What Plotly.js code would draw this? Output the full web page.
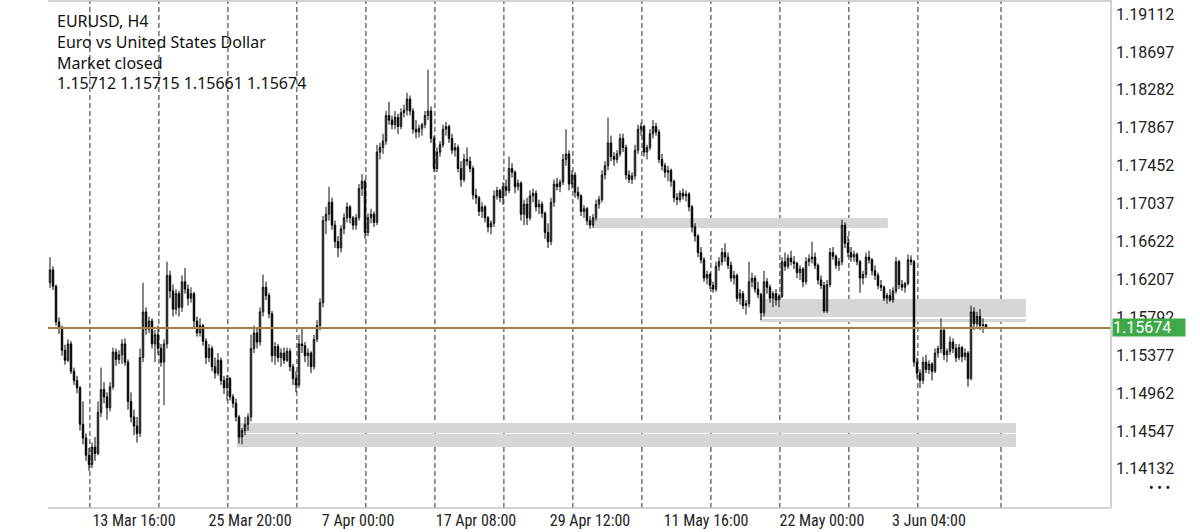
<!DOCTYPE html>
<html><head><meta charset="utf-8">
<script src="https://cdn.plot.ly/plotly-3.0.1.min.js"></script>
<style>html,body{margin:0;padding:0;background:#fff}#chart{width:1200px;height:532px}</style>
</head><body><div id="chart"></div>
<script>
// ---- header text ----
const headerLines = ["EURUSD, H4", "Euro vs United States Dollar", "Market closed", "1.15712 1.15715 1.15661 1.15674"];

// ---- H4 candles ----
const openPrices = [
1.1617,1.1631,1.1613,1.1574,1.1567,1.1543,1.1532,1.1550,1.1520,1.1510,
1.1502,1.1462,1.1447,1.1428,1.1418,1.1437,1.1430,1.1475,1.1500,1.1492,
1.1480,1.1503,1.1541,1.1533,1.1538,1.1550,1.1530,1.1487,1.1470,1.1460,
1.1452,1.1535,1.1585,1.1566,1.1575,1.1550,1.1560,1.1545,1.1530,1.1550,
1.1625,1.1608,1.1588,1.1605,1.1590,1.1618,1.1610,1.1600,1.1605,1.1575,
1.1562,1.1570,1.1553,1.1535,1.1545,1.1525,1.1518,1.1532,1.1510,1.1502,
1.1512,1.1492,1.1485,1.1470,1.1448,1.1455,1.1462,1.1470,1.1545,1.1562,
1.1552,1.1585,1.1612,1.1603,1.1583,1.1537,1.1547,1.1535,1.1540,1.1532,
1.1542,1.1525,1.1512,1.1505,1.1550,1.1548,1.1537,1.1540,1.1525,1.1555,
1.1570,1.1595,1.1685,1.1692,1.1705,1.1680,1.1662,1.1655,1.1676,1.1688,
1.1700,1.1688,1.1680,1.1688,1.1720,1.1728,1.1672,1.1688,1.1692,1.1683,
1.1760,1.1765,1.1772,1.1800,1.1795,1.1790,1.1798,1.1788,1.1803,1.1806,
1.1818,1.1805,1.1785,1.1782,1.1786,1.1790,1.1800,1.1805,1.1775,1.1742,
1.1760,1.1768,1.1785,1.1788,1.1775,1.1762,1.1765,1.1742,1.1730,1.1752,
1.1750,1.1742,1.1713,1.1710,1.1695,1.1700,1.1688,1.1678,1.1682,1.1712,
1.1718,1.1710,1.1722,1.1718,1.1742,1.1738,1.1722,1.1726,1.1692,1.1703,
1.1688,1.1712,1.1715,1.1700,1.1703,1.1693,1.1672,1.1662,1.1705,1.1725,
1.1722,1.1727,1.1752,1.1758,1.1725,1.1735,1.1716,1.1712,1.1695,1.1698,
1.1685,1.1680,1.1688,1.1703,1.1708,1.1735,1.1745,1.1770,1.1755,1.1752,
1.1758,1.1775,1.1765,1.1735,1.1730,1.1734,1.1762,1.1785,1.1788,1.1760,
1.1765,1.1780,1.1788,1.1782,1.1752,1.1745,1.1738,1.1740,1.1728,1.1710,
1.1708,1.1715,1.1712,1.1714,1.1700,1.1678,1.1668,1.1650,1.1642,1.1622,
1.1626,1.1614,1.1610,1.1635,1.1640,1.1650,1.1645,1.1636,1.1622,1.1625,
1.1600,1.1605,1.1592,1.1594,1.1618,1.1622,1.1610,1.1604,1.1584,1.1618,
1.1612,1.1600,1.1605,1.1598,1.1602,1.1640,1.1635,1.1644,1.1640,1.1638,
1.1628,1.1632,1.1618,1.1640,1.1643,1.1645,1.1636,1.1620,1.1614,1.1586,
1.1615,1.1650,1.1646,1.1636,1.1640,1.1680,1.1660,1.1650,1.1645,1.1648,
1.1640,1.1622,1.1626,1.1645,1.1642,1.1630,1.1625,1.1614,1.1612,1.1600,
1.1603,1.1598,1.1608,1.1640,1.1615,1.1612,1.1616,1.1642,1.1640,1.1530,
1.1518,1.1510,1.1530,1.1522,1.1528,1.1520,1.1540,1.1545,1.1565,1.1538,
1.1542,1.1552,1.1545,1.1535,1.1546,1.1536,1.1540,1.1512,1.1585,1.1572,
1.1580,1.1570,1.15712];
const highPrices = [
1.1645,1.1635,1.1615,1.1579,1.1570,1.1549,1.1555,1.1553,1.1524,1.1515,
1.1504,1.1487,1.1452,1.1436,1.1442,1.1448,1.1487,1.1524,1.1508,1.1497,
1.1508,1.1546,1.1545,1.1543,1.1555,1.1556,1.1533,1.1497,1.1478,1.1470,
1.1545,1.1617,1.1590,1.1580,1.1578,1.1565,1.1570,1.1550,1.1555,1.1640,
1.1630,1.1615,1.1610,1.1608,1.1625,1.1633,1.1615,1.1612,1.1607,1.1580,
1.1578,1.1572,1.1556,1.1550,1.1548,1.1535,1.1540,1.1535,1.1515,1.1516,
1.1514,1.1495,1.1490,1.1472,1.1458,1.1470,1.1474,1.1560,1.1570,1.1567,
1.1590,1.1626,1.1618,1.1606,1.1586,1.1552,1.1550,1.1545,1.1546,1.1546,
1.1545,1.1528,1.1520,1.1560,1.1568,1.1552,1.1545,1.1542,1.1560,1.1576,
1.1600,1.1690,1.1700,1.1722,1.1710,1.1685,1.1668,1.1680,1.1693,1.1705,
1.1702,1.1690,1.1692,1.1725,1.1736,1.1730,1.1693,1.1698,1.1695,1.1768,
1.1770,1.1780,1.1805,1.1815,1.1800,1.1805,1.1802,1.1808,1.1812,1.1825,
1.1822,1.1808,1.1795,1.1790,1.1792,1.1805,1.1850,1.1810,1.1778,1.1765,
1.1772,1.1790,1.1793,1.1790,1.1780,1.1770,1.1768,1.1750,1.1758,1.1765,
1.1755,1.1745,1.1720,1.1712,1.1705,1.1702,1.1690,1.1685,1.1718,1.1722,
1.1720,1.1727,1.1730,1.1755,1.1748,1.1740,1.1730,1.1728,1.1708,1.1710,
1.1718,1.1720,1.1718,1.1708,1.1706,1.1695,1.1682,1.1710,1.1730,1.1732,
1.1730,1.1758,1.1785,1.1762,1.1740,1.1738,1.1722,1.1714,1.1702,1.1700,
1.1690,1.1692,1.1708,1.1712,1.1740,1.1750,1.1798,1.1778,1.1760,1.1762,
1.1780,1.1780,1.1768,1.1740,1.1738,1.1768,1.1790,1.1792,1.1790,1.1768,
1.1785,1.1795,1.1792,1.1785,1.1758,1.1748,1.1745,1.1742,1.1730,1.1715,
1.1718,1.1720,1.1718,1.1716,1.1702,1.1682,1.1670,1.1656,1.1645,1.1630,
1.1628,1.1618,1.1640,1.1645,1.1655,1.1660,1.1650,1.1640,1.1630,1.1627,
1.1610,1.1608,1.1598,1.1640,1.1628,1.1625,1.1618,1.1606,1.1630,1.1622,
1.1615,1.1608,1.1610,1.1605,1.1645,1.1650,1.1648,1.1652,1.1646,1.1640,
1.1636,1.1634,1.1645,1.1648,1.1662,1.1650,1.1638,1.1625,1.1618,1.1620,
1.1655,1.1656,1.1648,1.1644,1.1686,1.1683,1.1668,1.1656,1.1652,1.1650,
1.1642,1.1630,1.1650,1.1652,1.1644,1.1636,1.1628,1.1620,1.1614,1.1606,
1.1610,1.1612,1.1645,1.1642,1.1620,1.1618,1.1648,1.1647,1.1642,1.1535,
1.1522,1.1536,1.1538,1.1532,1.1530,1.1545,1.1548,1.1578,1.1568,1.1545,
1.1558,1.1556,1.1550,1.1550,1.1548,1.1545,1.1542,1.1592,1.1590,1.1585,
1.1588,1.1578,1.15715];
const lowPrices = [
1.1611,1.1609,1.1570,1.1561,1.1537,1.1527,1.1530,1.1517,1.1505,1.1496,
1.1455,1.1440,1.1422,1.1411,1.1414,1.1422,1.1428,1.1470,1.1485,1.1467,
1.1476,1.1500,1.1526,1.1528,1.1528,1.1526,1.1478,1.1464,1.1450,1.1442,
1.1448,1.1530,1.1560,1.1562,1.1545,1.1530,1.1538,1.1525,1.1483,1.1545,
1.1600,1.1580,1.1582,1.1580,1.1585,1.1605,1.1592,1.1595,1.1568,1.1558,
1.1558,1.1548,1.1528,1.1530,1.1520,1.1512,1.1515,1.1505,1.1495,1.1488,
1.1488,1.1480,1.1465,1.1441,1.1440,1.1450,1.1455,1.1465,1.1540,1.1545,
1.1548,1.1580,1.1598,1.1578,1.1530,1.1527,1.1530,1.1525,1.1528,1.1530,
1.1520,1.1505,1.1497,1.1502,1.1540,1.1530,1.1525,1.1518,1.1522,1.1552,
1.1565,1.1590,1.1670,1.1685,1.1675,1.1655,1.1645,1.1650,1.1670,1.1683,
1.1682,1.1675,1.1675,1.1685,1.1712,1.1665,1.1668,1.1682,1.1678,1.1680,
1.1752,1.1758,1.1768,1.1790,1.1785,1.1785,1.1780,1.1785,1.1798,1.1800,
1.1800,1.1780,1.1775,1.1776,1.1778,1.1786,1.1795,1.1770,1.1738,1.1738,
1.1755,1.1765,1.1778,1.1770,1.1758,1.1755,1.1738,1.1722,1.1727,1.1745,
1.1738,1.1708,1.1703,1.1690,1.1688,1.1683,1.1672,1.1670,1.1678,1.1708,
1.1705,1.1702,1.1712,1.1715,1.1732,1.1715,1.1718,1.1685,1.1680,1.1680,
1.1685,1.1705,1.1695,1.1692,1.1688,1.1665,1.1655,1.1658,1.1700,1.1718,
1.1716,1.1724,1.1745,1.1718,1.1720,1.1710,1.1708,1.1690,1.1688,1.1680,
1.1676,1.1677,1.1685,1.1698,1.1705,1.1730,1.1740,1.1750,1.1745,1.1748,
1.1755,1.1760,1.1730,1.1726,1.1725,1.1730,1.1758,1.1778,1.1755,1.1752,
1.1762,1.1775,1.1778,1.1748,1.1740,1.1732,1.1728,1.1722,1.1705,1.1702,
1.1705,1.1708,1.1706,1.1695,1.1672,1.1662,1.1645,1.1638,1.1618,1.1615,
1.1610,1.1606,1.1607,1.1630,1.1636,1.1640,1.1632,1.1618,1.1615,1.1596,
1.1593,1.1588,1.1582,1.1590,1.1612,1.1606,1.1600,1.1576,1.1580,1.1605,
1.1595,1.1590,1.1592,1.1590,1.1600,1.1630,1.1632,1.1636,1.1632,1.1622,
1.1620,1.1612,1.1615,1.1635,1.1638,1.1632,1.1615,1.1610,1.1584,1.1584,
1.1612,1.1642,1.1632,1.1630,1.1636,1.1655,1.1645,1.1640,1.1640,1.1636,
1.1606,1.1615,1.1622,1.1638,1.1625,1.1620,1.1610,1.1608,1.1597,1.1594,
1.1596,1.1595,1.1605,1.1610,1.1608,1.1606,1.1614,1.1636,1.1525,1.1512,
1.1502,1.1506,1.1518,1.1517,1.1510,1.1518,1.1535,1.1540,1.1532,1.1530,
1.1538,1.1540,1.1530,1.1532,1.1530,1.1532,1.1503,1.1510,1.1565,1.1568,
1.1565,1.1562,1.15661];
const closePrices = [
1.1631,1.1613,1.1574,1.1567,1.1543,1.1532,1.1550,1.1520,1.1510,1.1502,
1.1462,1.1447,1.1428,1.1418,1.1437,1.1430,1.1475,1.1500,1.1492,1.1480,
1.1503,1.1541,1.1533,1.1538,1.1550,1.1530,1.1487,1.1470,1.1460,1.1452,
1.1535,1.1585,1.1566,1.1575,1.1550,1.1560,1.1545,1.1530,1.1550,1.1625,
1.1608,1.1588,1.1605,1.1590,1.1618,1.1610,1.1600,1.1605,1.1575,1.1562,
1.1570,1.1553,1.1535,1.1545,1.1525,1.1518,1.1532,1.1510,1.1502,1.1512,
1.1492,1.1485,1.1470,1.1448,1.1455,1.1462,1.1470,1.1545,1.1562,1.1552,
1.1585,1.1612,1.1603,1.1583,1.1537,1.1547,1.1535,1.1540,1.1532,1.1542,
1.1525,1.1512,1.1505,1.1550,1.1548,1.1537,1.1540,1.1525,1.1555,1.1570,
1.1595,1.1685,1.1692,1.1705,1.1680,1.1662,1.1655,1.1676,1.1688,1.1700,
1.1688,1.1680,1.1688,1.1720,1.1728,1.1672,1.1688,1.1692,1.1683,1.1760,
1.1765,1.1772,1.1800,1.1795,1.1790,1.1798,1.1788,1.1803,1.1806,1.1818,
1.1805,1.1785,1.1782,1.1786,1.1790,1.1800,1.1805,1.1775,1.1742,1.1760,
1.1768,1.1785,1.1788,1.1775,1.1762,1.1765,1.1742,1.1730,1.1752,1.1750,
1.1742,1.1713,1.1710,1.1695,1.1700,1.1688,1.1678,1.1682,1.1712,1.1718,
1.1710,1.1722,1.1718,1.1742,1.1738,1.1722,1.1726,1.1692,1.1703,1.1688,
1.1712,1.1715,1.1700,1.1703,1.1693,1.1672,1.1662,1.1705,1.1725,1.1722,
1.1727,1.1752,1.1758,1.1725,1.1735,1.1716,1.1712,1.1695,1.1698,1.1685,
1.1680,1.1688,1.1703,1.1708,1.1735,1.1745,1.1770,1.1755,1.1752,1.1758,
1.1775,1.1765,1.1735,1.1730,1.1734,1.1762,1.1785,1.1788,1.1760,1.1765,
1.1780,1.1788,1.1782,1.1752,1.1745,1.1738,1.1740,1.1728,1.1710,1.1708,
1.1715,1.1712,1.1714,1.1700,1.1678,1.1668,1.1650,1.1642,1.1622,1.1626,
1.1614,1.1610,1.1635,1.1640,1.1650,1.1645,1.1636,1.1622,1.1625,1.1600,
1.1605,1.1592,1.1594,1.1618,1.1622,1.1610,1.1604,1.1584,1.1618,1.1612,
1.1600,1.1605,1.1598,1.1602,1.1640,1.1635,1.1644,1.1640,1.1638,1.1628,
1.1632,1.1618,1.1640,1.1643,1.1645,1.1636,1.1620,1.1614,1.1586,1.1615,
1.1650,1.1646,1.1636,1.1640,1.1680,1.1660,1.1650,1.1645,1.1648,1.1640,
1.1622,1.1626,1.1645,1.1642,1.1630,1.1625,1.1614,1.1612,1.1600,1.1603,
1.1598,1.1608,1.1640,1.1615,1.1612,1.1616,1.1642,1.1640,1.1530,1.1518,
1.1510,1.1530,1.1522,1.1528,1.1520,1.1540,1.1545,1.1565,1.1538,1.1542,
1.1552,1.1545,1.1535,1.1546,1.1536,1.1540,1.1512,1.1585,1.1572,1.1580,
1.1570,1.1571,1.15674];

const lastPrice = 1.15674;

// ---- axis labels ----
const priceTicks = [1.19112,1.18697,1.18282,1.17867,1.17452,1.17037,1.16622,1.16207,1.15792,1.15377,1.14962,1.14547,1.14132];
const dateLabels = ["13 Mar 16:00","25 Mar 20:00","7 Apr 00:00","17 Apr 08:00","29 Apr 12:00","11 May 16:00","22 May 00:00","3 Jun 04:00"];
const dateLabelBars = [28, 66.7, 102.7, 142, 180, 218.7, 257.3, 293];
const separatorBars = [13.3, 36.3, 59.3, 82.3, 105.3, 128.3, 151.3, 174.3, 197.3, 220.3, 243.3, 266.3, 289.3, 317];

// ---- supply / demand zones (bar index from-to, price low-high) ----
const zoneStart = [62.3, 62.3, 236.7, 236.7, 181];
const zoneEnd   = [322, 322, 325.3, 325.3, 279.3];
const zoneLow   = [1.14524, 1.14371, 1.15794, 1.15739, 1.16769];
const zoneHigh  = [1.14633, 1.14513, 1.15991, 1.15772, 1.16878];

const bars = closePrices.map((_, i) => i);

const shapes = [];
for (let k = 0; k < zoneStart.length; k++) {
  shapes.push({type:'rect', xref:'x', yref:'y', x0:zoneStart[k], x1:zoneEnd[k], y0:zoneLow[k], y1:zoneHigh[k],
    fillcolor:'#d6d6d6', line:{width:0}, layer:'below'});
}
separatorBars.forEach(b => shapes.push({type:'line', xref:'x', yref:'paper', x0:b, x1:b, y0:0, y1:1,
  line:{color:'#2a2a2a', width:1, dash:'5px,3px'}, layer:'below'}));
shapes.push({type:'line', xref:'paper', yref:'y', x0:0, x1:1, y0:lastPrice, y1:lastPrice,
  line:{color:'#a87a4c', width:2}, layer:'above'});
// frame
shapes.push({type:'line', xref:'paper', yref:'paper', x0:0, x1:1, y0:1, y1:1, line:{color:'#c4c4c4', width:1.5}});
shapes.push({type:'line', xref:'paper', yref:'paper', x0:1, x1:1, y0:0, y1:1.003, line:{color:'#c4c4c4', width:1.5}});
shapes.push({type:'line', xref:'paper', yref:'paper', x0:0, x1:1, y0:0, y1:0, line:{color:'#c4c4c4', width:1.5}});

const annotations = [{
  xref:'paper', yref:'paper', x:0.0066, y:0.987, xanchor:'left', yanchor:'top', align:'left',
  text:headerLines.join('<br>'), showarrow:false, font:{family:'Noto Sans, Open Sans, sans-serif', size:16, color:'#111'}
}];
annotations.push({xref:'paper', yref:'y', x:1, xshift:1, y:lastPrice, xanchor:'left', yanchor:'middle',
  text:lastPrice.toFixed(5), showarrow:false, bgcolor:'#3fa84a', width:72, height:17, align:'left', borderpad:0,
  font:{family:'Roboto, sans-serif', size:16, color:'#ffffff'}});
annotations.push({xref:'paper', yref:'paper', x:1.0452, y:0.039, xanchor:'center', yanchor:'middle',
  text:'• • •', showarrow:false, font:{family:'Roboto, sans-serif', size:14, color:'#111'}});

const trace = {
  type:'candlestick', x:bars, open:openPrices, high:highPrices, low:lowPrices, close:closePrices,
  increasing:{line:{color:'#111', width:1}, fillcolor:'#6a6a6a'},
  decreasing:{line:{color:'#000', width:1}, fillcolor:'#000'},
  whiskerwidth:0, hoverinfo:'skip', showlegend:false
};

const layout = {
  width:1200, height:532,
  margin:{l:48, r:89, t:1, b:24, pad:0},
  paper_bgcolor:'#ffffff', plot_bgcolor:'#ffffff',
  showlegend:false,
  xaxis:{range:[-0.667, 353.667], rangeslider:{visible:false}, showgrid:false, zeroline:false, showline:false,
    tickmode:'array', tickvals:dateLabelBars, ticktext:dateLabels, ticks:'', ticklabelstandoff:1,
    tickfont:{family:'Liberation Sans Narrow, Roboto Condensed, DejaVu Sans Condensed, Roboto, sans-serif', size:16, color:'#222'}},
  yaxis:{range:[1.13703, 1.192543], side:'right', showgrid:false, zeroline:false, showline:false,
    tickmode:'array', tickvals:priceTicks, ticktext:priceTicks.map(v => v.toFixed(5)), ticks:'', ticklabelstandoff:4,
    tickfont:{family:'Roboto, sans-serif', size:16, color:'#222'}},
  shapes:shapes, annotations:annotations
};

Plotly.newPlot('chart', [trace], layout, {staticPlot:true, displayModeBar:false});
</script>
</body></html>
